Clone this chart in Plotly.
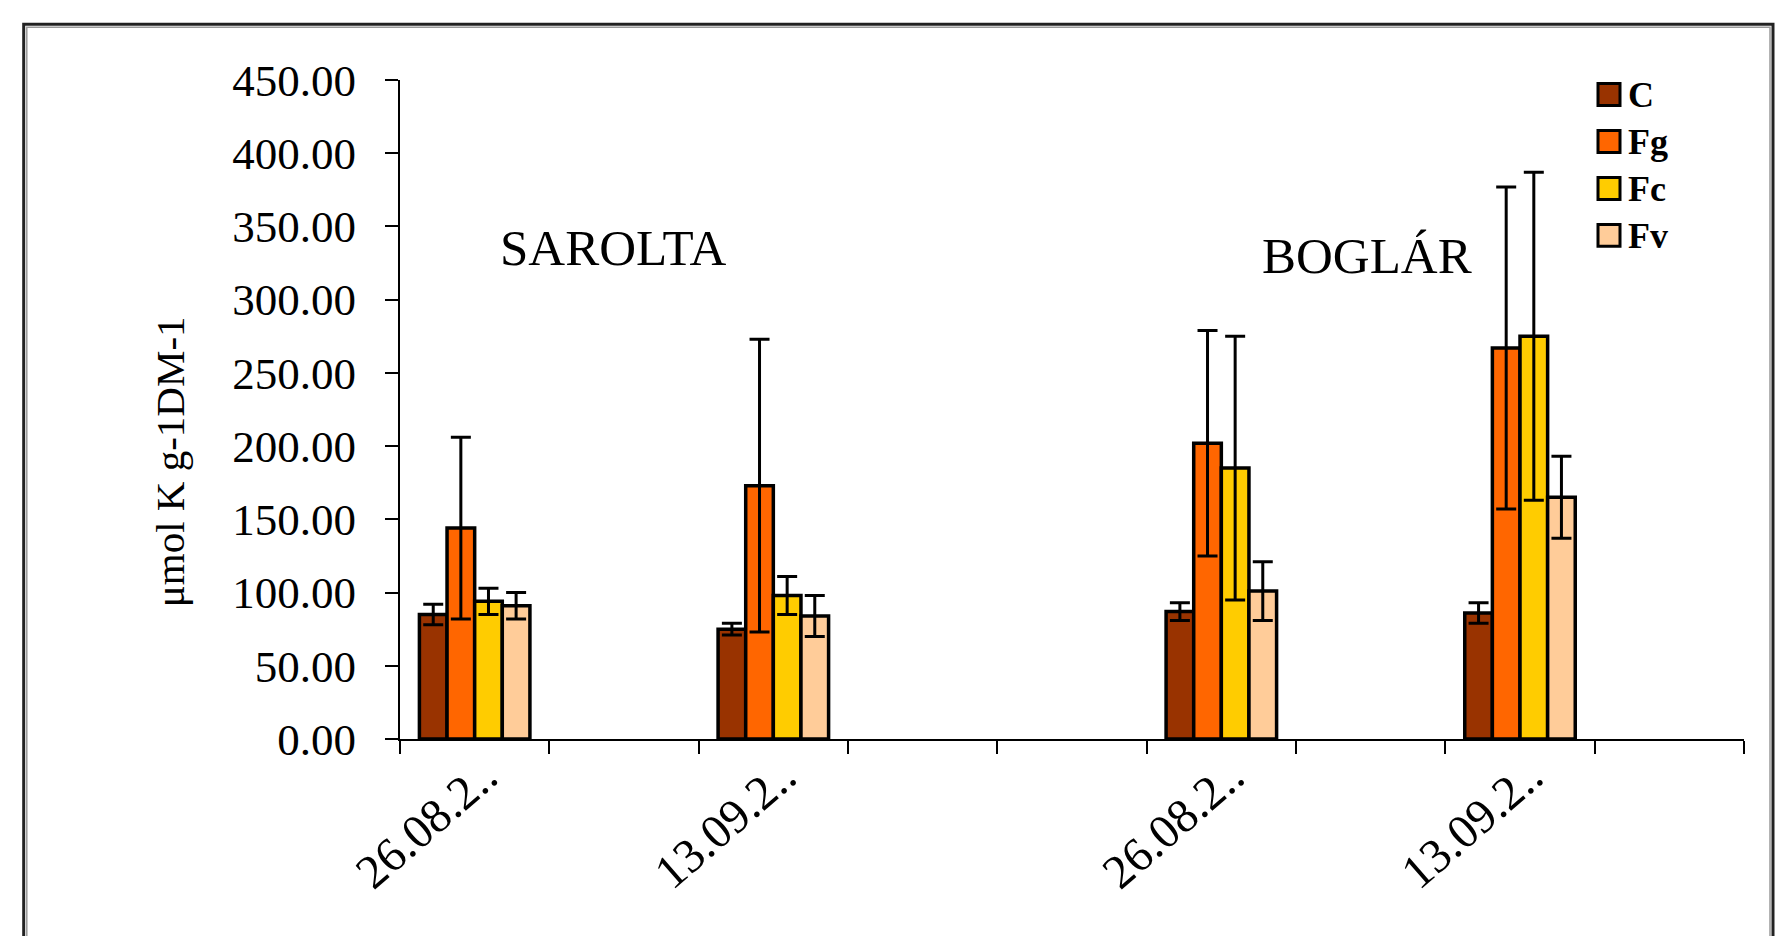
import plotly.graph_objects as go

# ---- data ----
slot_keys = ["s1", "e1", "s2", "e2", "e3", "b1", "e4", "b2", "e5"]
tick_labels = ["26.08.2..", "", "13.09.2..", "", "", "26.08.2..", "", "13.09.2..", ""]
series_names = ["C", "Fg", "Fc", "Fv"]
series_colors = ["#993300", "#FF6600", "#FFCC00", "#FFCC99"]

C_vals = [85, None, 75, None, None, 87, None, 86, None]
C_err = [7, None, 4, None, None, 6, None, 7, None]
Fg_vals = [144, None, 173, None, None, 202, None, 267, None]
Fg_err = [62, None, 100, None, None, 77, None, 110, None]
Fc_vals = [94, None, 98, None, None, 185, None, 275, None]
Fc_err = [9, None, 13, None, None, 90, None, 112, None]
Fv_vals = [91, None, 84, None, None, 101, None, 165, None]
Fv_err = [9, None, 14, None, None, 20, None, 28, None]

y_title = "μmol K g-1DM-1"
group_labels = ["SAROLTA", "BOGLÁR"]

values = [C_vals, Fg_vals, Fc_vals, Fv_vals]
errors = [C_err, Fg_err, Fc_err, Fv_err]

# ---- layout geometry (pixels) ----
W, H = 1781, 936
PL, PR, PT, PB = 400, 1744, 79.5, 739
pw, ph = PR - PL, PB - PT


def px_x(px):
    return (px - PL) / pw


def px_y(py):
    return (PB - py) / ph


FONT = "Liberation Serif"

fig = go.Figure()
for name, col, v, e in zip(series_names, series_colors, values, errors):
    fig.add_trace(go.Bar(
        x=slot_keys, y=v, name=name,
        marker=dict(color=col, line=dict(color="black", width=3.5)),
        error_y=dict(type="data", array=e, symmetric=True, color="black",
                     thickness=3, width=10),
        showlegend=False,
    ))

shapes = []
# outer frame (double line)
shapes.append(dict(type="rect", xref="paper", yref="paper",
                   x0=px_x(23.7), x1=px_x(1773), y0=px_y(945), y1=px_y(23.7),
                   line=dict(color="#222222", width=3), fillcolor="rgba(0,0,0,0)", layer="below"))
shapes.append(dict(type="rect", xref="paper", yref="paper",
                   x0=px_x(26.8), x1=px_x(1770), y0=px_y(945), y1=px_y(26.8),
                   line=dict(color="#9a9a9a", width=1.5), fillcolor="rgba(0,0,0,0)", layer="below"))

annotations = []
# manual legend
for i, (name, col) in enumerate(zip(series_names, series_colors)):
    cy = 94 + 47 * i
    shapes.append(dict(type="rect", xref="paper", yref="paper",
                       x0=px_x(1598), x1=px_x(1620), y0=px_y(cy + 11), y1=px_y(cy - 11),
                       line=dict(color="black", width=3), fillcolor=col))
    annotations.append(dict(text="<b>%s</b>" % name, xref="paper", yref="paper",
                            x=px_x(1626), y=px_y(cy + 1), xanchor="left", yanchor="middle",
                            showarrow=False, font=dict(family=FONT, size=36, color="black")))

# group labels
for txt, (cx, cy) in zip(group_labels, [(613, 248), (1367, 256)]):
    annotations.append(dict(text=txt, xref="paper", yref="paper", x=px_x(cx), y=px_y(cy),
                            xanchor="center", yanchor="middle", showarrow=False,
                            font=dict(family=FONT, size=51, color="black")))

# y axis title
annotations.append(dict(text=y_title, xref="paper", yref="paper", x=px_x(170), y=px_y(462),
                        xanchor="center", yanchor="middle", textangle=-90, showarrow=False,
                        font=dict(family=FONT, size=41, color="black")))

fig.update_layout(
    width=W, height=H,
    margin=dict(l=PL, r=W - PR, t=PT, b=H - PB, pad=0),
    paper_bgcolor="white", plot_bgcolor="white",
    barmode="group", bargap=0.26, bargroupgap=0.0,
    shapes=shapes, annotations=annotations,
    font=dict(family=FONT, color="black"),
    xaxis=dict(type="category", categoryorder="array", categoryarray=slot_keys,
               tickmode="array", tickvals=slot_keys, ticktext=tick_labels,
               tickson="boundaries", ticks="outside", ticklen=13, tickwidth=2,
               tickcolor="black", showline=True, linecolor="black", linewidth=2,
               showgrid=False, zeroline=False, tickangle=-41,
               tickfont=dict(family=FONT, size=48, color="black"),
               ticklabelshift=10, ticklabelstandoff=-12,
               range=[-0.5, 8.5], automargin=False),
    yaxis=dict(range=[0, 450], tick0=0, dtick=50, tickformat=".2f",
               ticks="outside", ticklen=13, tickwidth=2, tickcolor="black",
               showline=True, linecolor="black", linewidth=2, showgrid=False,
               zeroline=False, tickfont=dict(family=FONT, size=45, color="black"),
               ticklabelstandoff=20, automargin=False),
)

fig.write_html("out.html")
